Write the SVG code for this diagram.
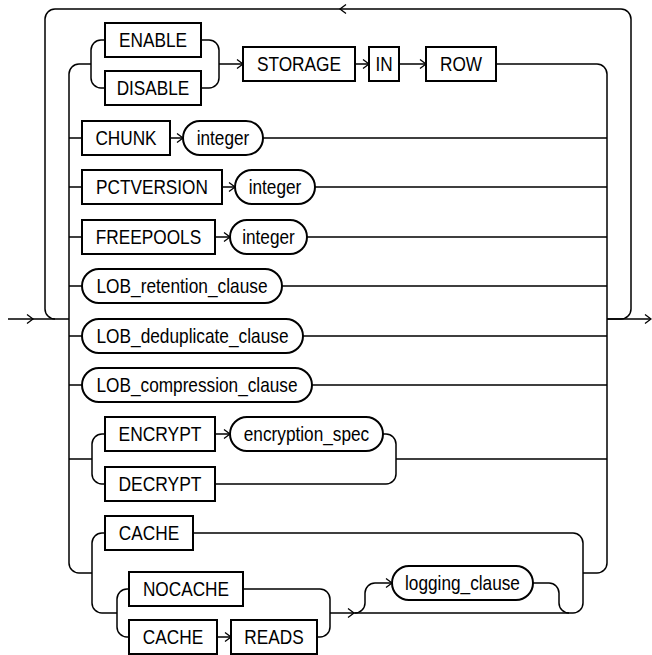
<svg xmlns="http://www.w3.org/2000/svg" xmlns:xlink="http://www.w3.org/1999/xlink" width="652" height="655" viewBox="0 0 652 655">
<style>
.b{fill:#fff;stroke:#000;stroke-width:2}
.c{fill:none;stroke:#000;stroke-width:1.5}
.t{font-family:"Liberation Sans",Arial,sans-serif;font-size:21px;text-anchor:middle;fill:#000}
</style>
<defs>
<path id="ar" d="M-6,-4.5 L0,0 L-6,4.5" fill="none" stroke="#000" stroke-width="1.3"/>
<path id="al" d="M6,-4.5 L0,0 L6,4.5" fill="none" stroke="#000" stroke-width="1.3"/>
</defs>
<rect width="652" height="655" fill="#fff"/>
<g id="connectors" class="c">
<path d="M8 319 H69 M607 319 H650"/>
<path d="M607 319 H621 A10 10 0 0 0 631 309 V19 A10 10 0 0 0 621 9 H55 A10 10 0 0 0 45 19 V309 A10 10 0 0 0 55 319"/>
<path d="M91 64 H79 A10 10 0 0 0 69 74 V563 A10 10 0 0 0 79 573 H92"/>
<path d="M496 64 H597 A10 10 0 0 1 607 74 V563 A10 10 0 0 1 597 573 H583"/>
<path d="M105 40 H101 A10 10 0 0 0 91 50 V78 A10 10 0 0 0 101 88 H105"/>
<path d="M201 40 H209 A10 10 0 0 1 219 50 V78 A10 10 0 0 1 209 88 H201 M219 64 H243 M355 64 H369 M399 64 H426"/>
<path d="M69 138 H82 M170 138 H183 M263 138 H607"/>
<path d="M69 187 H82 M222 187 H235 M315 187 H607"/>
<path d="M69 237 H82 M215 237 H230 M307 237 H607"/>
<path d="M69 286 H82 M282 286 H607"/>
<path d="M69 336 H82 M303 336 H607"/>
<path d="M69 385 H82 M312 385 H607"/>
<path d="M69 459 H92 M105 434 H102 A10 10 0 0 0 92 444 V474 A10 10 0 0 0 102 484 H105 M215 434 H230"/>
<path d="M383 434 H386 A10 10 0 0 1 396 444 V474 A10 10 0 0 1 386 484 H215 M396 459 H607"/>
<path d="M105 533 H102 A10 10 0 0 0 92 543 V603 A10 10 0 0 0 102 613 H117"/>
<path d="M129 589 H127 A10 10 0 0 0 117 599 V627 A10 10 0 0 0 127 637 H129 M217 637 H231"/>
<path d="M243 589 H320 A10 10 0 0 1 330 599 V627 A10 10 0 0 1 320 637 H317"/>
<path d="M330 613 H573 A10 10 0 0 0 583 603 V543 A10 10 0 0 0 573 533 H193"/>
<path d="M355 613 A10 10 0 0 0 365 603 V593 A10 10 0 0 1 375 583 H392 M533 583 H549 A10 10 0 0 1 559 593 V603 A10 10 0 0 0 569 613"/>
<use xlink:href="#ar" x="33" y="319"/>
<use xlink:href="#ar" x="651" y="319"/>
<use xlink:href="#al" x="340" y="9"/>
<use xlink:href="#ar" x="243" y="64"/>
<use xlink:href="#ar" x="369" y="64"/>
<use xlink:href="#ar" x="426" y="64"/>
<use xlink:href="#ar" x="183" y="138"/>
<use xlink:href="#ar" x="235" y="187"/>
<use xlink:href="#ar" x="230" y="237"/>
<use xlink:href="#ar" x="230" y="434"/>
<use xlink:href="#ar" x="231" y="637"/>
<use xlink:href="#ar" x="354" y="613"/>
<use xlink:href="#ar" x="392" y="583"/>
</g>
<g id="n_enable"><rect class="b" x="105" y="23" width="96" height="34"/><text class="t" x="153" y="46.5" textLength="68" lengthAdjust="spacingAndGlyphs">ENABLE</text></g>
<g id="n_disable"><rect class="b" x="105" y="71" width="96" height="34"/><text class="t" x="153" y="94.5" textLength="72.7" lengthAdjust="spacingAndGlyphs">DISABLE</text></g>
<g id="n_storage"><rect class="b" x="243" y="47" width="112" height="34"/><text class="t" x="299" y="70.5" textLength="84.2" lengthAdjust="spacingAndGlyphs">STORAGE</text></g>
<g id="n_in"><rect class="b" x="369" y="47" width="30" height="34"/><text class="t" x="384" y="70.5" textLength="17.2" lengthAdjust="spacingAndGlyphs">IN</text></g>
<g id="n_row"><rect class="b" x="426" y="47" width="70" height="34"/><text class="t" x="461" y="70.5" textLength="42.1" lengthAdjust="spacingAndGlyphs">ROW</text></g>
<g id="n_chunk"><rect class="b" x="82" y="121" width="88" height="34"/><text class="t" x="126" y="144.5" textLength="61.2" lengthAdjust="spacingAndGlyphs">CHUNK</text></g>
<g id="n_int1"><rect class="b" x="183" y="121" width="80" height="34" rx="17"/><text class="t" x="223" y="144.5" textLength="52.6" lengthAdjust="spacingAndGlyphs">integer</text></g>
<g id="n_pctversion"><rect class="b" x="82" y="170" width="140" height="34"/><text class="t" x="152" y="193.5" textLength="111.9" lengthAdjust="spacingAndGlyphs">PCTVERSION</text></g>
<g id="n_int2"><rect class="b" x="235" y="170" width="80" height="34" rx="17"/><text class="t" x="275" y="193.5" textLength="52.6" lengthAdjust="spacingAndGlyphs">integer</text></g>
<g id="n_freepools"><rect class="b" x="82" y="220" width="133" height="34"/><text class="t" x="148.5" y="243.5" textLength="105.3" lengthAdjust="spacingAndGlyphs">FREEPOOLS</text></g>
<g id="n_int3"><rect class="b" x="230" y="220" width="77" height="34" rx="17"/><text class="t" x="268.5" y="243.5" textLength="52.6" lengthAdjust="spacingAndGlyphs">integer</text></g>
<g id="n_retention"><rect class="b" x="82" y="269" width="200" height="34" rx="17"/><text class="t" x="182" y="292.5" textLength="171" lengthAdjust="spacingAndGlyphs">LOB_retention_clause</text></g>
<g id="n_dedup"><rect class="b" x="82" y="319" width="221" height="34" rx="17"/><text class="t" x="192.5" y="342.5" textLength="192" lengthAdjust="spacingAndGlyphs">LOB_deduplicate_clause</text></g>
<g id="n_compression"><rect class="b" x="82" y="368" width="230" height="34" rx="17"/><text class="t" x="197" y="391.5" textLength="201" lengthAdjust="spacingAndGlyphs">LOB_compression_clause</text></g>
<g id="n_encrypt"><rect class="b" x="105" y="417" width="110" height="34"/><text class="t" x="160" y="440.5" textLength="83" lengthAdjust="spacingAndGlyphs">ENCRYPT</text></g>
<g id="n_encspec"><rect class="b" x="230" y="417" width="153" height="34" rx="17"/><text class="t" x="306.5" y="440.5" textLength="125.4" lengthAdjust="spacingAndGlyphs">encryption_spec</text></g>
<g id="n_decrypt"><rect class="b" x="105" y="467" width="110" height="34"/><text class="t" x="160" y="490.5" textLength="83" lengthAdjust="spacingAndGlyphs">DECRYPT</text></g>
<g id="n_cache1"><rect class="b" x="105" y="516" width="88" height="34"/><text class="t" x="149" y="539.5" textLength="60.3" lengthAdjust="spacingAndGlyphs">CACHE</text></g>
<g id="n_nocache"><rect class="b" x="129" y="572" width="114" height="34"/><text class="t" x="186" y="595.5" textLength="86.1" lengthAdjust="spacingAndGlyphs">NOCACHE</text></g>
<g id="n_cache2"><rect class="b" x="129" y="620" width="88" height="34"/><text class="t" x="173" y="643.5" textLength="60.3" lengthAdjust="spacingAndGlyphs">CACHE</text></g>
<g id="n_reads"><rect class="b" x="231" y="620" width="86" height="34"/><text class="t" x="274" y="643.5" textLength="59.3" lengthAdjust="spacingAndGlyphs">READS</text></g>
<g id="n_logging"><rect class="b" x="392" y="566" width="141" height="34" rx="17"/><text class="t" x="462.5" y="589.5" textLength="114.9" lengthAdjust="spacingAndGlyphs">logging_clause</text></g>
</svg>
